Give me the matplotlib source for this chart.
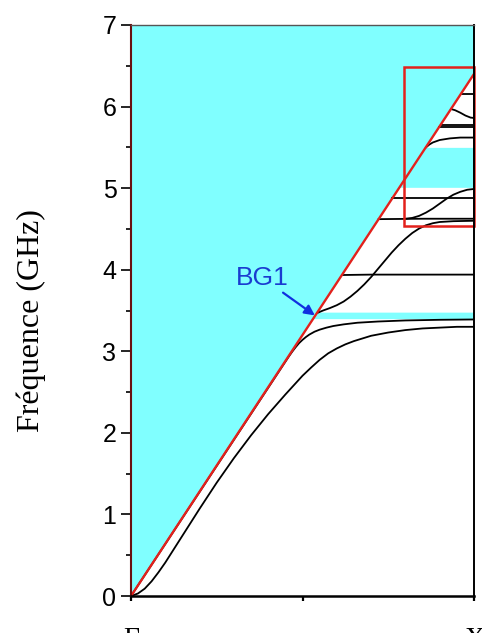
import matplotlib
matplotlib.use("Agg")
import matplotlib.pyplot as plt
import numpy as np
from matplotlib.patches import Rectangle
from matplotlib.ticker import MultipleLocator

CYAN = "#80ffff"
RED = "#e3211c"
BLUE = "#1a3cd0"
INK = "#000000"

# light line: f = slope * k, k from Gamma (0) to X (1)
light_slope = 6.4
light_k = [0.0, 1.0]
light_f = [0.0, 6.4]

# band gaps (GHz), shaded from light line to X
gaps = [(3.40, 3.48), (5.01, 5.50)]

# dispersion branches, k in units of Gamma-X
b1_k = [0, 0.02, 0.04, 0.06, 0.08, 0.10, 0.15, 0.20, 0.25, 0.30, 0.35, 0.40, 0.45,
        0.50, 0.525, 0.55, 0.575, 0.60, 0.625, 0.65, 0.70, 0.75, 0.80, 0.85, 0.90,
        0.95, 1.0]
b1_f = [0, 0.03, 0.09, 0.18, 0.29, 0.41, 0.74, 1.07, 1.39, 1.69, 1.97, 2.23, 2.47,
        2.70, 2.80, 2.895, 2.975, 3.035, 3.085, 3.125, 3.19, 3.23, 3.26, 3.28, 3.29,
        3.30, 3.30]
b2_k = [0, 0.46, 0.47, 0.48, 0.49, 0.50, 0.51, 0.52, 0.535, 0.55, 0.57, 0.59, 0.62,
        0.66, 0.72, 0.80, 0.90, 1.0]
b2_f = [0, 2.935, 2.995, 3.05, 3.10, 3.14, 3.175, 3.205, 3.24, 3.265, 3.29, 3.31, 3.33,
        3.35, 3.365, 3.378, 3.386, 3.39]
b3_k = [0.543, 0.56, 0.58, 0.60, 0.62, 0.64, 0.66, 0.68, 0.70, 0.72, 0.74, 0.76, 0.78,
        0.80, 0.82, 0.84, 0.86, 0.88, 0.90, 0.94, 1.0]
b3_f = [3.47, 3.50, 3.53, 3.565, 3.61, 3.67, 3.74, 3.82, 3.91, 4.01, 4.11, 4.21, 4.30,
        4.38, 4.45, 4.505, 4.545, 4.57, 4.585, 4.595, 4.60]
b4_k = [0.615, 0.7, 1.0]
b4_f = [3.935, 3.94, 3.94]
b5_k = [0.722, 0.85, 1.0]
b5_f = [4.62, 4.625, 4.625]
b6_k = [0.80, 0.82, 0.84, 0.86, 0.88, 0.90, 0.92, 0.94, 0.96, 0.98, 1.0]
b6_f = [4.625, 4.635, 4.66, 4.70, 4.75, 4.81, 4.87, 4.92, 4.955, 4.98, 4.99]
b7_k = [0.762, 0.9, 1.0]
b7_f = [4.88, 4.88, 4.88]
b8_k = [0.86, 0.87, 0.88, 0.90, 0.93, 0.96, 1.0]
b8_f = [5.50, 5.535, 5.56, 5.59, 5.61, 5.62, 5.62]
b9_k = [0.898, 1.0]
b9_f = [5.75, 5.75]
b10_k = [0.903, 1.0]
b10_f = [5.78, 5.78]
b11_k = [0.933, 0.945, 0.96, 0.975, 0.99, 1.0]
b11_f = [5.97, 5.955, 5.925, 5.89, 5.865, 5.86]
b12_k = [0.961, 1.0]
b12_f = [6.15, 6.15]

bands = [(b1_k, b1_f), (b2_k, b2_f), (b3_k, b3_f), (b4_k, b4_f), (b5_k, b5_f),
         (b6_k, b6_f), (b7_k, b7_f), (b8_k, b8_f), (b9_k, b9_f), (b10_k, b10_f),
         (b11_k, b11_f), (b12_k, b12_f)]

# zoomed region box (k0, f0, k1, f1)
box_k = [0.795, 1.0]
box_f = [4.53, 6.48]

fig = plt.figure(figsize=(4.82, 6.33), dpi=100)
ax = fig.add_axes([131/482, 37/633, 343/482, 571/633])
ax.set_xlim(0, 1)
ax.set_ylim(0, 7)

# cyan: region above the light line and the gaps
kk = np.array(light_k)
ax.fill_between(kk, np.array(light_f), 7, color=CYAN, lw=0, zorder=1)
for lo, hi in gaps:
    ax.fill_betweenx([lo, hi], [lo / light_slope, hi / light_slope], 1.0,
                     color=CYAN, lw=0, zorder=1)

for k, f in bands:
    ax.plot(k, f, color=INK, lw=1.3, zorder=3, solid_joinstyle="round")

ax.plot(light_k, light_f, color=RED, lw=1.7, zorder=4)
ax.add_patch(Rectangle((box_k[0], box_f[0]), box_k[1] - box_k[0], box_f[1] - box_f[0],
                       fill=False, ec=RED, lw=1.8, zorder=5, clip_on=False))

ax.annotate("BG1", xy=(0.536, 3.44), xytext=(0.383, 3.90),
            ha="center", va="center", fontsize=19, color=BLUE,
            family="Liberation Sans",
            arrowprops=dict(arrowstyle="-|>", color="#1030e0", lw=1.6,
                            mutation_scale=15, shrinkA=0, shrinkB=0),
            zorder=6)

for side in ["top", "right", "bottom", "left"]:
    ax.spines[side].set_zorder(7)
ax.spines["top"].set_color("#555555")
ax.spines["top"].set_linewidth(1.0)
ax.spines["right"].set_linewidth(1.4)
ax.spines["bottom"].set_linewidth(1.8)
ax.spines["left"].set_color("#6a1010")
ax.spines["left"].set_linewidth(1.5)

ax.yaxis.set_major_locator(MultipleLocator(1))
ax.yaxis.set_minor_locator(MultipleLocator(0.5))
ax.tick_params(axis="y", which="major", direction="out", length=7, width=1.2,
               pad=3.5, labelsize=18)
ax.tick_params(axis="y", which="minor", direction="out", length=3.5, width=1.2)
for lab in ax.get_yticklabels():
    lab.set_family("Liberation Sans")

ax.set_xticks([0, 0.5, 1.0])
ax.set_xticklabels(["Γ", "", "X"], family="Liberation Serif", fontsize=20)
ax.tick_params(axis="x", which="major", direction="out", length=3.5, width=1.6,
               pad=19)
ax.tick_params(top=False, right=False)

fig.text(31/482, 1 - 320.5/633, "Fréquence (GHz)", rotation=90, ha="center",
         va="center", fontsize=23, family="Liberation Serif")

fig.savefig("out.png", dpi=100, facecolor="white")
